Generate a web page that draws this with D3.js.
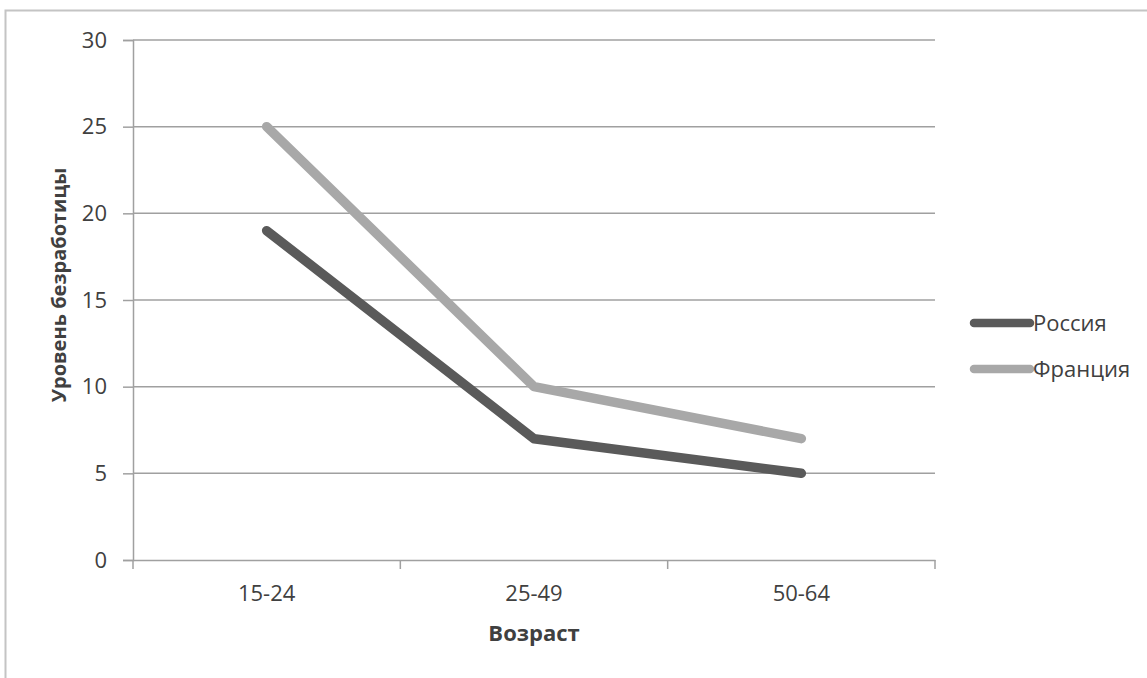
<!DOCTYPE html>
<html>
<head>
<meta charset="utf-8">
<script src="https://cdn.jsdelivr.net/npm/d3@7"></script>
<style>
  body { margin: 0; background: #fff; }
  text { font-family: "Open Sans", "Liberation Sans", sans-serif; fill: #404040; }
</style>
</head>
<body>
<svg id="chart" width="1147" height="678"></svg>
<script>
const categories = ["15-24", "25-49", "50-64"];
const russia = [19, 7, 5];
const france = [25, 10, 7];
const yTicks = [0, 5, 10, 15, 20, 25, 30];
const seriesNames = ["Россия", "Франция"];
const seriesColors = ["#5a5a5a", "#a8a8a8"];

const margin = {left: 133, right: 935, top: 40, bottom: 560};
const labelSize = 22;
const svg = d3.select('#chart');

// outer frame
svg.append('rect')
  .attr('x', 5.5).attr('y', 10.5)
  .attr('width', 1160).attr('height', 700)
  .attr('fill', 'none')
  .attr('stroke', '#c4c4c4')
  .attr('stroke-width', 2);

const x = d3.scaleBand()
  .domain(categories)
  .range([margin.left, margin.right]);

const y = d3.scaleLinear()
  .domain([0, 30])
  .range([margin.bottom, margin.top]);

// gridlines + y labels
const yAxis = svg.append('g')
  .attr('transform', `translate(${margin.left},0)`)
  .call(d3.axisLeft(y).tickValues(yTicks).tickSize(10).tickPadding(16));
yAxis.select('.domain').attr('stroke', '#a0a0a0').attr('stroke-width', 1.5);
yAxis.selectAll('.tick line').attr('stroke', '#a0a0a0').attr('stroke-width', 1.5);
yAxis.selectAll('.tick text').attr('font-size', labelSize).attr('fill', '#404040')
  .style('font-family', '"Open Sans", sans-serif');

svg.append('g')
  .selectAll('line')
  .data(yTicks.filter(d => d > 0))
  .join('line')
  .attr('x1', margin.left).attr('x2', margin.right)
  .attr('y1', d => y(d)).attr('y2', d => y(d))
  .attr('stroke', '#a0a0a0')
  .attr('stroke-width', 1.5);

// x axis
const xAxis = svg.append('g')
  .attr('transform', `translate(0,${margin.bottom})`)
  .call(d3.axisBottom(x).tickSize(0).tickPadding(25));
xAxis.select('.domain').attr('stroke', '#a0a0a0').attr('stroke-width', 1.5);
xAxis.selectAll('.tick text').attr('font-size', labelSize).attr('fill', '#404040')
  .style('font-family', '"Open Sans", sans-serif');

// tick marks between categories
const edges = categories.map(d => x(d)).concat([margin.right]);
svg.append('g')
  .selectAll('line')
  .data(edges)
  .join('line')
  .attr('x1', d => d).attr('x2', d => d)
  .attr('y1', margin.bottom).attr('y2', margin.bottom + 9)
  .attr('stroke', '#a0a0a0')
  .attr('stroke-width', 1.5);

// lines
const line = d3.line()
  .x((d, i) => x(categories[i]) + x.bandwidth() / 2)
  .y(d => y(d));

[russia, france].forEach((values, i) => {
  svg.append('path')
    .datum(values)
    .attr('d', line)
    .attr('fill', 'none')
    .attr('stroke', seriesColors[i])
    .attr('stroke-width', 9.5)
    .attr('stroke-linejoin', 'round')
    .attr('stroke-linecap', 'round');
});

// axis titles
svg.append('text')
  .attr('x', (margin.left + margin.right) / 2)
  .attr('y', 641)
  .attr('text-anchor', 'middle')
  .attr('font-size', 22)
  .attr('font-weight', 'bold')
  .attr('fill', '#262626')
  .text('Возраст');

svg.append('text')
  .attr('transform', 'translate(66,285) rotate(-90)')
  .attr('text-anchor', 'middle')
  .attr('font-size', 20)
  .attr('font-weight', 'bold')
  .attr('fill', '#262626')
  .text('Уровень безработицы');

// legend
const legend = svg.append('g')
  .selectAll('g')
  .data(seriesNames)
  .join('g')
  .attr('transform', (d, i) => `translate(974,${323 + i * 46})`);
legend.append('line')
  .attr('x1', 0).attr('x2', 56)
  .attr('stroke', (d, i) => seriesColors[i])
  .attr('stroke-width', 8.5)
  .attr('stroke-linecap', 'round');
legend.append('text')
  .attr('x', 59)
  .attr('dy', '0.36em')
  .attr('font-size', labelSize)
  .attr('fill', '#404040')
  .text(d => d);
</script>
</body>
</html>
